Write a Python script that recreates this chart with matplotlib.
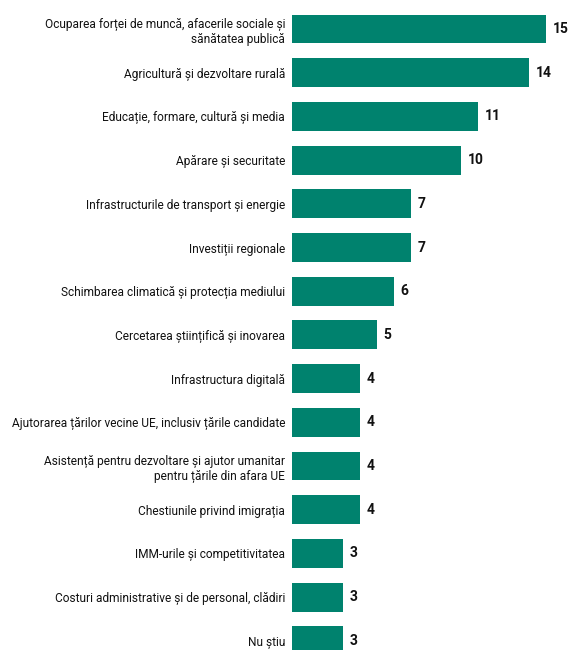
import matplotlib
matplotlib.use("Agg")
import matplotlib.pyplot as plt

categories = [
    "Ocuparea forței de muncă, afacerile sociale și\nsănătatea publică",
    "Agricultură și dezvoltare rurală",
    "Educație, formare, cultură și media",
    "Apărare și securitate",
    "Infrastructurile de transport și energie",
    "Investiții regionale",
    "Schimbarea climatică și protecția mediului",
    "Cercetarea științifică și inovarea",
    "Infrastructura digitală",
    "Ajutorarea țărilor vecine UE, inclusiv țările candidate",
    "Asistență pentru dezvoltare și ajutor umanitar\npentru țările din afara UE",
    "Chestiunile privind imigrația",
    "IMM-urile și competitivitatea",
    "Costuri administrative și de personal, clădiri",
    "Nu știu",
]
values = [15, 14, 11, 10, 7, 7, 6, 5, 4, 4, 4, 4, 3, 3, 3]

color = "#00826E"

fig = plt.figure(figsize=(5.71, 6.5), dpi=100)
ax = fig.add_axes([292 / 571, 0, 1 - 292 / 571, 1])
pos = list(range(len(values)))
ax.barh(pos, values, height=0.66, color=color)
ax.set_ylim(14.21, -0.664)
ax.set_xlim(0, 16.48)
ax.set_yticks(pos)
ax.set_yticklabels(categories, fontsize=8.6, family=["Roboto", "DejaVu Sans"],
                   ha="right", linespacing=1.25, color="#111111")
ax.tick_params(axis="y", length=0, pad=5)
ax.set_xticks([])
for s in ax.spines.values():
    s.set_visible(False)
for p, v in zip(pos, values):
    ax.annotate(str(v), (v, p), xytext=(5, 0), textcoords="offset points",
                va="center", ha="left", fontsize=10, fontweight="bold", color="#111111",
                family=["Roboto", "DejaVu Sans"])
fig.savefig("out.png", dpi=100)
